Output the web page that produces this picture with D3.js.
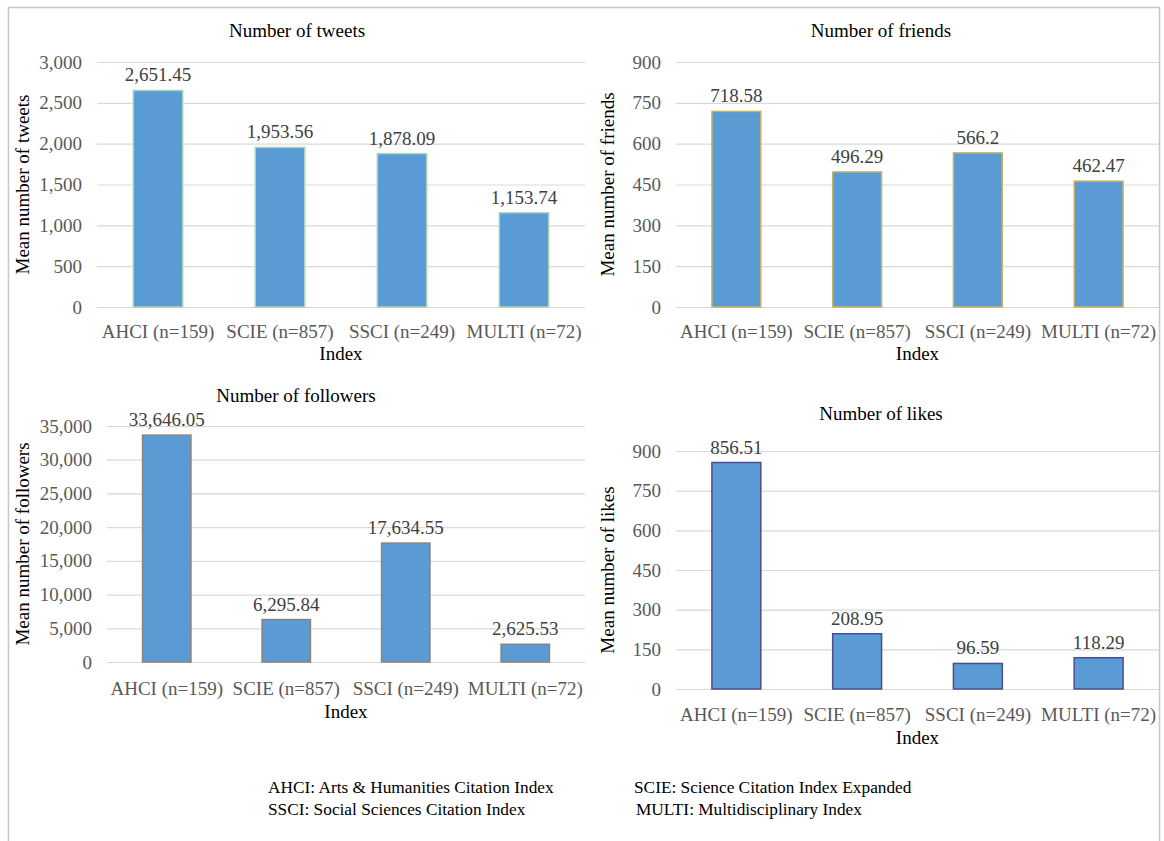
<!DOCTYPE html>
<html>
<head>
<meta charset="utf-8">
<script src="https://cdn.jsdelivr.net/npm/d3@7"></script>
<style>
  html, body { margin: 0; padding: 0; background: #fff; }
  svg { display: block; }
  svg text { font-family: "Liberation Serif", "Times New Roman", "DejaVu Serif", serif !important; }
</style>
</head>
<body>
<svg id="chart" width="1164" height="841" font-family="Liberation Serif, Times New Roman, serif"></svg>
<script>
// ---- data ----
const categories = ["AHCI (n=159)", "SCIE (n=857)", "SSCI (n=249)", "MULTI (n=72)"];
const tweets    = [2651.45, 1953.56, 1878.09, 1153.74];
const friends   = [718.58, 496.29, 566.2, 462.47];
const followers = [33646.05, 6295.84, 17634.55, 2625.53];
const likes     = [856.51, 208.95, 96.59, 118.29];

const tweetTicks    = [0, 500, 1000, 1500, 2000, 2500, 3000];
const friendTicks   = [0, 150, 300, 450, 600, 750, 900];
const followerTicks = [0, 5000, 10000, 15000, 20000, 25000, 30000, 35000];
const likeTicks     = [0, 150, 300, 450, 600, 750, 900];

const panelTitles = ["Number of tweets", "Number of friends", "Number of followers", "Number of likes"];
const yTitles = ["Mean number of tweets", "Mean number of friends", "Mean number of followers", "Mean number of likes"];
const xTitle = "Index";

const legendLines = [
  ["AHCI: Arts & Humanities Citation Index", "SCIE: Science Citation Index Expanded"],
  ["SSCI: Social Sciences Citation Index", "MULTI: Multidisciplinary Index"]
];

// ---- layout ----
const layout = [
  { values: tweets,    ticks: tweetTicks,    x0: 97,  x1: 585,  yTop: 62,  yBot: 307, titleX: 297, titleY: 30,  yTitleX: 22,  labelY: 331, indexY: 353, stroke: "#a8d4b8" },
  { values: friends,   ticks: friendTicks,   x0: 676, x1: 1159, yTop: 62,  yBot: 307, titleX: 881, titleY: 30,  yTitleX: 607, labelY: 331, indexY: 353, stroke: "#c8b560" },
  { values: followers, ticks: followerTicks, x0: 107, x1: 585,  yTop: 426, yBot: 662, titleX: 296, titleY: 395, yTitleX: 22,  labelY: 688, indexY: 711, stroke: "#8a8378" },
  { values: likes,     ticks: likeTicks,     x0: 676, x1: 1159, yTop: 451, yBot: 689, titleX: 881, titleY: 413, yTitleX: 607, labelY: 714, indexY: 737, stroke: "#4b4c8e" }
];

const svg = d3.select("#chart");
const fmt = d3.format(",");
const FS = 19;
const FONT = '"Liberation Serif", "Times New Roman", "DejaVu Serif", serif';

// outer frame
svg.append("path")
  .attr("d", "M8.5,850 L8.5,7.5 L1159.5,7.5 L1159.5,850")
  .attr("fill", "none").attr("stroke", "#c8c8c8").attr("stroke-width", 1.5);

layout.forEach((p, i) => {
  const g = svg.append("g");
  const x = d3.scaleBand().domain(categories).range([p.x0, p.x1])
    .paddingInner(0.595).paddingOuter(0.2975);
  const y = d3.scaleLinear().domain([0, d3.max(p.ticks)]).range([p.yBot, p.yTop]);

  // gridlines + y tick labels
  const yAxis = d3.axisLeft(y).tickValues(p.ticks).tickFormat(fmt)
    .tickSize(-(p.x1 - p.x0)).tickPadding(15);
  const ya = g.append("g").attr("transform", `translate(${p.x0},0)`).call(yAxis)
    .attr("font-family", FONT);
  ya.select(".domain").remove();
  ya.selectAll(".tick line").attr("stroke", "#d9d9d9").attr("stroke-width", 1.2);
  ya.selectAll(".tick text").attr("fill", "#595959").style("font-size", FS + "px");

  // bars
  g.selectAll("rect.bar").data(p.values).enter().append("rect")
    .attr("class", "bar")
    .attr("x", (d, j) => x(categories[j]))
    .attr("width", x.bandwidth())
    .attr("y", d => y(d))
    .attr("height", d => y(0) - y(d))
    .attr("fill", "#5b9bd5")
    .attr("stroke", p.stroke).attr("stroke-width", 1.5);

  // value labels
  g.selectAll("text.val").data(p.values).enter().append("text")
    .attr("class", "val")
    .attr("x", (d, j) => x(categories[j]) + x.bandwidth() / 2)
    .attr("y", d => y(d) - 9)
    .attr("text-anchor", "middle")
    .attr("fill", "#404040")
    .style("font-size", FS + "px")
    .text(d => fmt(d));

  // x axis labels
  const xAxis = d3.axisBottom(x).tickSize(0).tickPadding(0);
  const xa = g.append("g").attr("transform", `translate(0,${p.labelY})`).call(xAxis)
    .attr("font-family", FONT);
  xa.select(".domain").remove();
  xa.selectAll(".tick text").attr("dy", "0.35em").attr("y", 0).attr("fill", "#595959")
    .style("font-size", FS + "px");

  // panel title
  g.append("text").attr("x", p.titleX).attr("y", p.titleY).attr("dy", "0.35em")
    .attr("text-anchor", "middle").attr("fill", "#000").style("font-size", FS + "px")
    .text(panelTitles[i]);

  // x title
  g.append("text").attr("x", (p.x0 + p.x1) / 2).attr("y", p.indexY).attr("dy", "0.35em")
    .attr("text-anchor", "middle").attr("fill", "#000").style("font-size", FS + "px")
    .text(xTitle);

  // y title
  g.append("text")
    .attr("transform", `translate(${p.yTitleX},${(p.yTop + p.yBot) / 2}) rotate(-90)`)
    .attr("dy", "0.35em").attr("text-anchor", "middle").attr("fill", "#000")
    .style("font-size", FS + "px")
    .text(yTitles[i]);
});

// legend notes
const legendX = [268, 634];
const legendY = [787, 809];
legendLines.forEach((row, r) => {
  row.forEach((t, c) => {
    svg.append("text").attr("x", legendX[c] + (r === 1 && c === 1 ? 2 : 0)).attr("y", legendY[r])
      .attr("dy", "0.35em").attr("fill", "#000").style("font-size", "17.3px").text(t);
  });
});
</script>
</body>
</html>
